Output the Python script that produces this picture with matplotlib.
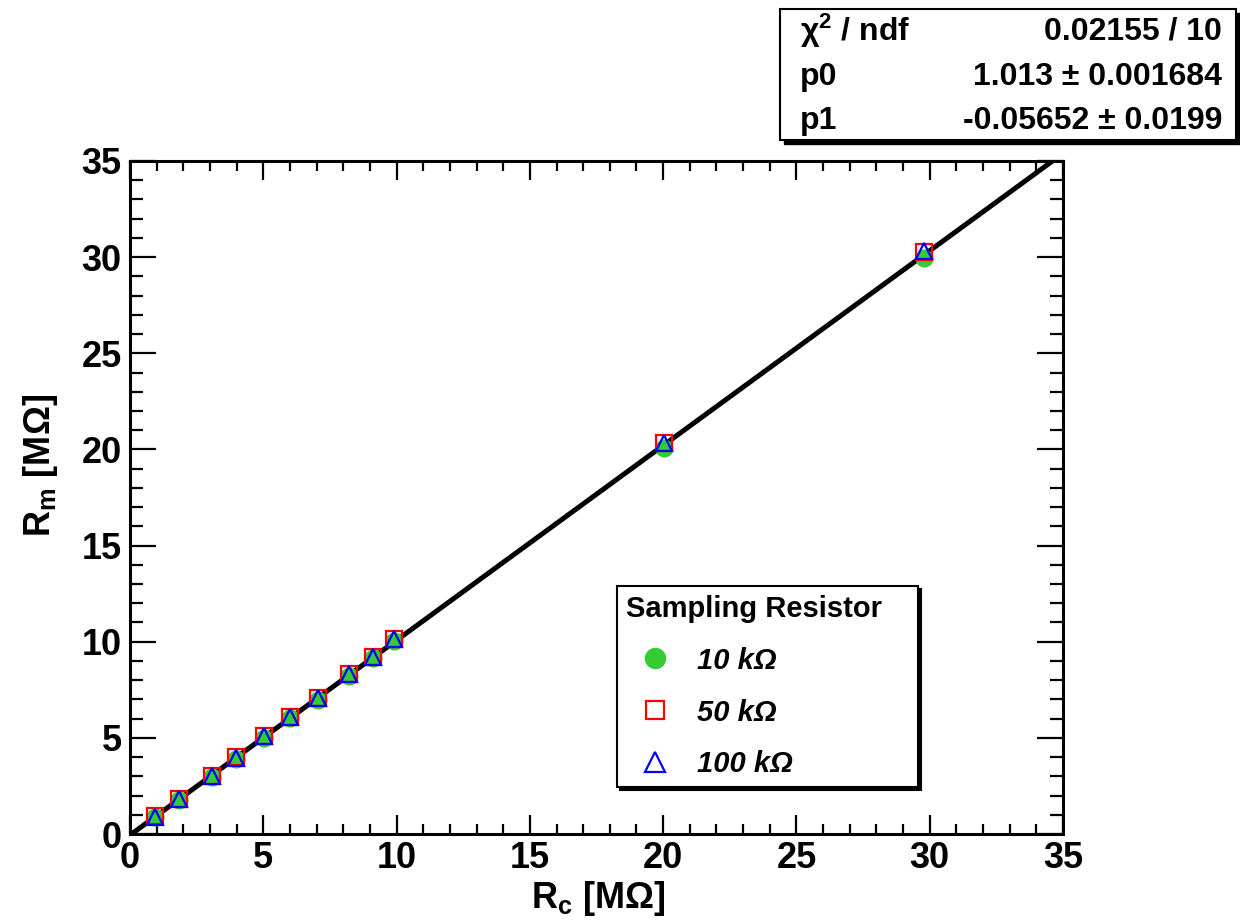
import matplotlib
matplotlib.use("Agg")
import matplotlib.pyplot as plt
from matplotlib.patches import Rectangle
from matplotlib.ticker import MultipleLocator

plt.rcParams["font.family"] = ["Liberation Sans", "DejaVu Sans"]
plt.rcParams["mathtext.fontset"] = "custom"
plt.rcParams["mathtext.rm"] = "Liberation Sans:bold"
plt.rcParams["mathtext.bf"] = "Liberation Sans:bold"
plt.rcParams["mathtext.it"] = "Liberation Sans:italic"

# calibrated resistance R_c [MOhm]
rc = [0.94, 1.82, 3.07, 3.98, 5.03, 6.02, 7.04, 8.21, 9.11, 9.92, 20.04, 29.77]
# measured resistance R_m [MOhm] for each sampling resistor
rm_10k = [0.87, 1.75, 2.97, 3.92, 5.01, 6.01, 6.98, 8.24, 9.14, 10.03, 20.10, 29.95]
rm_50k = [0.92, 1.81, 3.02, 3.98, 5.09, 6.09, 7.07, 8.33, 9.23, 10.12, 20.35, 30.28]
rm_100k = [0.91, 1.80, 3.01, 3.97, 5.08, 6.08, 7.06, 8.32, 9.22, 10.12, 20.36, 30.30]

# linear fit result
p0 = 1.013
p1 = -0.05652
fit_x = [0, 35]

stats_rows = [("χ$^{2}$ / ndf", "0.02155 / 10"),
              ("p0", "1.013 ± 0.001684"),
              ("p1", "-0.05652 ± 0.0199")]

fig = plt.figure(figsize=(12.4, 9.21), dpi=100)
W, H = 1240, 921
ax = fig.add_axes([130 / W, 1 - 834 / H, 933 / W, 673 / H])

fit_y = [p0 * x + p1 for x in fit_x]
ax.plot(fit_x, fit_y, color="black", lw=3.6, zorder=2)

ax.plot(rc, rm_10k, "o", color="#33cc33", ms=12, mec="#33cc33",
        label="10 kΩ", zorder=3)
ax.plot(rc, rm_50k, "s", color="red", ms=11, mfc="none", mew=1.6,
        label="50 kΩ", zorder=4)
ax.plot(rc, rm_100k, "^", color="blue", ms=12, mfc="none", mew=1.6,
        label="100 kΩ", zorder=5)

ax.set_xlim(0, 35)
ax.set_ylim(0, 35)
ax.xaxis.set_major_locator(MultipleLocator(5))
ax.xaxis.set_minor_locator(MultipleLocator(1))
ax.yaxis.set_major_locator(MultipleLocator(5))
ax.yaxis.set_minor_locator(MultipleLocator(1))

for s in ax.spines.values():
    s.set_linewidth(2.2)
ax.tick_params(axis="both", which="both", direction="in", top=True, right=True,
               width=1.6)
ax.tick_params(axis="x", which="major", length=14, pad=5)
ax.tick_params(axis="x", which="minor", length=7)
ax.tick_params(axis="y", which="major", length=19, pad=6)
ax.tick_params(axis="y", which="minor", length=9.5)
for lab in ax.get_xticklabels() + ax.get_yticklabels():
    lab.set_fontsize(26)
    lab.set_fontweight("bold")

fig.text(598 / W, 1 - 898 / H, "R$_\\mathbf{c}$ [MΩ]", fontsize=26,
         fontweight="bold", ha="center", va="center")
fig.text(40 / W, 1 - 465 / H, "R$_\\mathbf{m}$ [MΩ]", fontsize=26,
         fontweight="bold", ha="center", va="center", rotation=90)

leg = ax.legend(loc="upper left", bbox_to_anchor=(0.522, 0.0758, 0.3226, 0.2927),
                mode="expand", title="Sampling Resistor", alignment="left",
                prop={"size": 21, "weight": "bold", "style": "italic"},
                title_fontproperties={"size": 21, "weight": "bold"},
                borderpad=0.3, handlelength=2.0, handletextpad=0.45,
                labelspacing=0.82, borderaxespad=0, fancybox=False,
                markerscale=1.2,
                shadow={"color": "black", "alpha": 1})
leg.get_frame().set_edgecolor("black")
leg.get_frame().set_linewidth(1.5)

# fit statistics box
x0, y0, x1, y1 = 780, 9, 1236, 140
fig.patches.append(Rectangle(((x0 + 4) / W, 1 - (y1 + 4) / H), (x1 - x0) / W,
                             (y1 - y0) / H, transform=fig.transFigure,
                             facecolor="black", edgecolor="black", zorder=1))
fig.patches.append(Rectangle((x0 / W, 1 - y1 / H), (x1 - x0) / W,
                             (y1 - y0) / H, transform=fig.transFigure,
                             facecolor="white", edgecolor="black", lw=1.5,
                             zorder=2))
row_y = [31, 77, 121]
for (name, val), ry in zip(stats_rows, row_y):
    fig.text(800 / W, 1 - ry / H, name, fontsize=23, fontweight="bold",
             ha="left", va="center", zorder=3)
    fig.text(1222 / W, 1 - ry / H, val, fontsize=23, fontweight="bold",
             ha="right", va="center", zorder=3)

fig.savefig("out.png", dpi=100)
